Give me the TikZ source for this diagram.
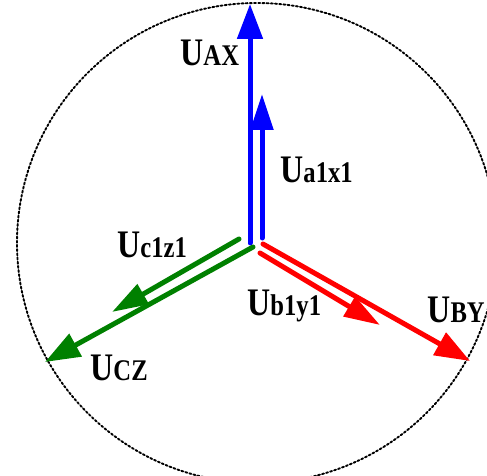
\documentclass[tikz,border=0pt]{standalone}
\usepackage{fontspec}
\setmainfont{Liberation Serif}
\newfontfamily\lblfont[FakeStretch=0.82]{Liberation Serif}
\usetikzlibrary{arrows.meta}
\definecolor{phblue}{RGB}{0,0,255}
\definecolor{phgreen}{RGB}{0,128,0}
\definecolor{phred}{RGB}{255,0,0}
\newcommand{\vlab}[2]{\lblfont\bfseries{\fontsize{19.5}{20}\selectfont #1}{\fontsize{15}{16}\selectfont #2}}

\begin{document}
\begin{tikzpicture}[x=0.5pt,y=-0.5pt,line cap=round,
  vec/.style={line width=2.5pt,-{Triangle[length=17.5pt,width=12.5pt]}},
  subvec/.style={line width=2.5pt,-{Triangle[length=18pt,width=11pt]}},
  lbl/.style={anchor=base west,inner sep=0pt}]
\useasboundingbox (0,0) rectangle (487,476);
\clip (0,0) rectangle (487,476);
\draw[line width=0.95pt,dash pattern=on 1pt off 1.1pt] (257,243) circle[radius=120pt];
% phase tails and tips
\coordinate (AXo) at (250,243);
\coordinate (AXt) at (250,4);
\coordinate (axo) at (262,238);
\coordinate (axt) at (262,94);
\coordinate (CZo) at (253,247);
\coordinate (CZt) at (45,362);
\coordinate (czo) at (239,239);
\coordinate (czt) at (112,312);
\coordinate (BYo) at (263,244);
\coordinate (BYt) at (470,361);
\coordinate (byo) at (260,253);
\coordinate (byt) at (380,325);
\draw[subvec,phblue] (axo) -- (axt);
\draw[vec,phblue] (AXo) -- (AXt);
\draw[subvec,phgreen] (czo) -- (czt);
\draw[vec,phgreen] (CZo) -- (CZt);
\draw[subvec,phred] (byo) -- (byt);
\draw[vec,phred] (BYo) -- (BYt);
% labels
\node[lbl] (lAX) at (180,66) {\vlab{U}{AX}};
\node[lbl] (lax) at (280,183) {\vlab{U}{a1x1}};
\node[lbl] (lcz) at (117,257) {\vlab{U}{c1z1}};
\node[lbl] (lCZ) at (90,380) {\vlab{U}{CZ}};
\node[lbl] (lby) at (247,315) {\vlab{U}{b1y1}};
\node[lbl] (lBY) at (427,322) {\vlab{U}{BY}};
\end{tikzpicture}
\end{document}
